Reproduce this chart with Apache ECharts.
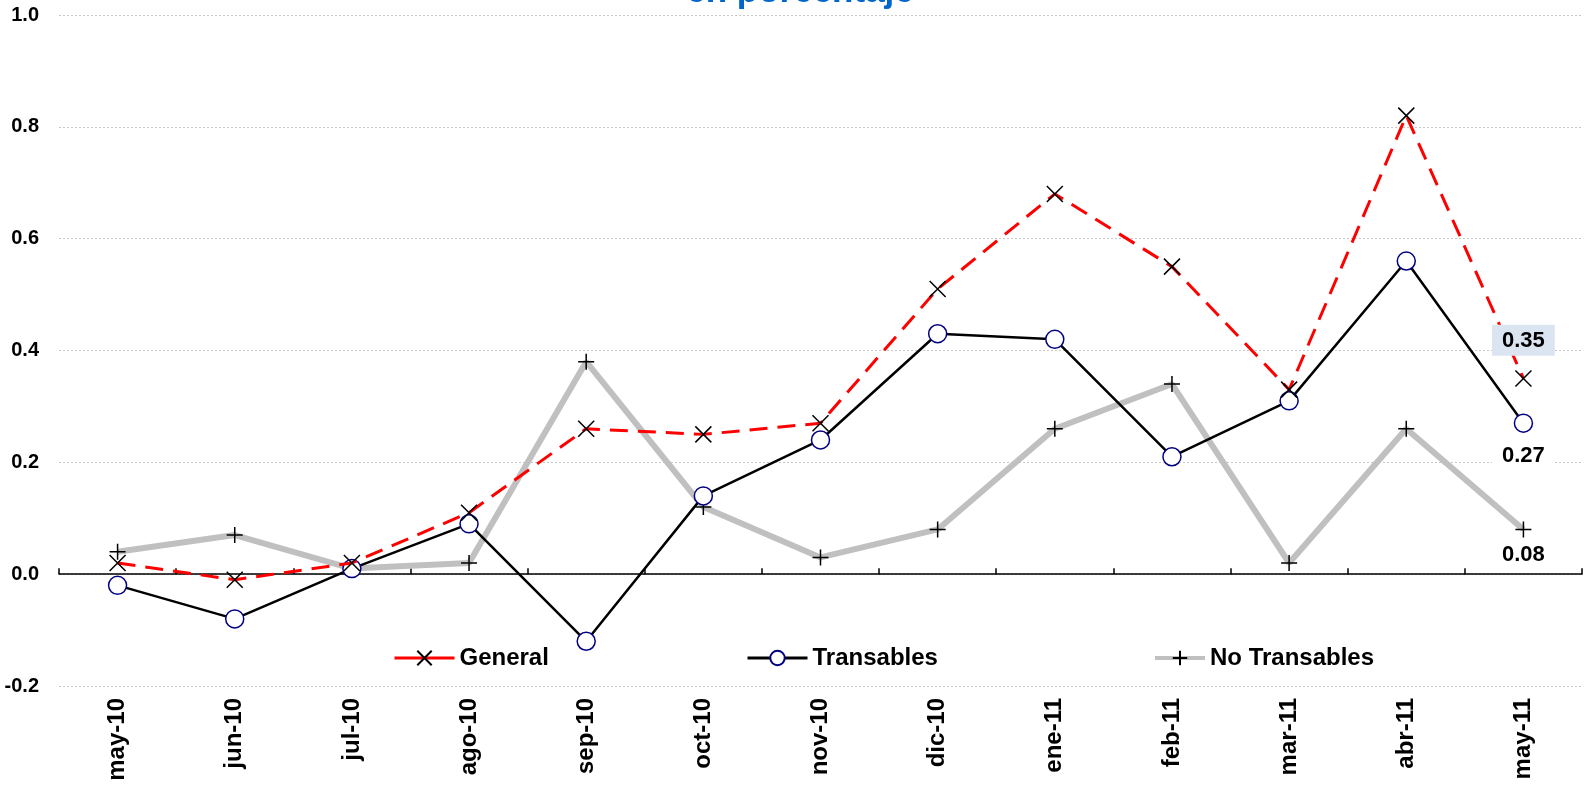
<!DOCTYPE html>
<html>
<head>
<meta charset="utf-8">
<script src="https://cdn.jsdelivr.net/npm/echarts@6/dist/echarts.min.js"></script>
<style>html,body{margin:0;padding:0;background:#fff}#c{width:1587px;height:791px}</style>
</head>
<body>
<div id="c"></div>
<script>
const categories = ['may-10','jun-10','jul-10','ago-10','sep-10','oct-10','nov-10','dic-10','ene-11','feb-11','mar-11','abr-11','may-11'];
const general = [0.02,-0.01,0.02,0.11,0.26,0.25,0.27,0.51,0.68,0.55,0.33,0.82,0.35];
const transables = [-0.02,-0.08,0.01,0.09,-0.12,0.14,0.24,0.43,0.42,0.21,0.31,0.56,0.27];
const noTransables = [0.04,0.07,0.01,0.02,0.38,0.12,0.03,0.08,0.26,0.34,0.02,0.26,0.08];
const yTicks = {min: -0.2, max: 1.0, interval: 0.2};
const titleText = 'en porcentaje';

const FONT = '"Liberation Sans", Arial, sans-serif';
const chart = echarts.init(document.getElementById('c'));
const crossPath = 'path://M0,0L10,10M10,0L0,10';
const plusPath = 'path://M5,0L5,10M0,5L10,5';

function lastLabel(arr, pos, dist, bg) {
  return arr.map((v, i) => i === arr.length - 1 ? {
    value: v,
    label: {show: true, position: pos, distance: dist, formatter: p => p.value.toFixed(2),
      fontFamily: FONT, fontWeight: 'bold', fontSize: 22, color: '#000',
      backgroundColor: bg, padding: [5, 10, 4, 10]}
  } : v);
}

const legendCommon = {
  top: 641, itemHeight: 18, itemGap: 8,
  textStyle: {fontFamily: FONT, fontWeight: 'bold', fontSize: 24, color: '#000'},
  selectedMode: false
};

chart.setOption({
  animation: false,
  backgroundColor: '#ffffff',
  graphic: [{
    type: 'text', x: 800, y: 10,
    style: {text: titleText, fill: '#0066CC', font: 'bold 35px ' + FONT, textAlign: 'center', textVerticalAlign: 'bottom'}
  }],
  legend: [
    Object.assign({left: 388, itemWidth: 60, data: ['General'], lineStyle: {type: 'solid', width: 3}}, legendCommon),
    Object.assign({left: 741, itemWidth: 60, data: ['Transables'], lineStyle: {width: 3}}, legendCommon),
    Object.assign({left: 1148, itemWidth: 50, data: ['No Transables'], lineStyle: {width: 4}}, legendCommon)
  ],
  grid: {left: 59, right: 5, top: 15, bottom: 105, containLabel: false},
  xAxis: [{
    type: 'category', data: categories, boundaryGap: true,
    axisLine: {show: true, onZero: true, lineStyle: {color: '#000', width: 1.5}},
    axisTick: {show: true, inside: true, length: 6, alignWithLabel: false, lineStyle: {color: '#000', width: 1.5}},
    axisLabel: {show: false}, splitLine: {show: false}
  }, {
    type: 'category', data: categories, boundaryGap: true, position: 'bottom',
    axisLine: {show: false, onZero: false}, axisTick: {show: false},
    axisLabel: {show: true, rotate: 90, margin: 12, fontFamily: FONT, fontWeight: 'bold', fontSize: 24, color: '#000'},
    splitLine: {show: false}
  }],
  yAxis: {
    type: 'value', min: yTicks.min, max: yTicks.max, interval: yTicks.interval,
    axisLine: {show: false}, axisTick: {show: false},
    axisLabel: {margin: 20, fontFamily: FONT, fontWeight: 'bold', fontSize: 20, color: '#000', formatter: v => v.toFixed(1)},
    splitLine: {show: true, lineStyle: {color: '#c8c8c8', type: [2, 2], width: 1}}
  },
  series: [{
    name: 'No Transables', type: 'line', data: lastLabel(noTransables, 'bottom', 1, '#ffffff'),
    lineStyle: {color: '#c0c0c0', width: 6},
    symbol: plusPath, symbolSize: 16,
    itemStyle: {color: 'rgba(0,0,0,0)', borderColor: '#000', borderWidth: 1.5},
    z: 2
  }, {
    name: 'Transables', type: 'line', data: lastLabel(transables, 'bottom', 7, '#ffffff'),
    lineStyle: {color: '#000', width: 2.5},
    symbol: 'circle', symbolSize: 18,
    itemStyle: {color: '#ffffff', borderColor: '#000080', borderWidth: 1.5},
    z: 3
  }, {
    name: 'General', type: 'line', data: lastLabel(general, 'top', 14, '#dbe5f1'),
    lineStyle: {color: '#ff0000', width: 3, type: [18, 10]},
    symbol: crossPath, symbolSize: 16,
    itemStyle: {color: 'rgba(0,0,0,0)', borderColor: '#000', borderWidth: 1.5},
    z: 4
  }]
});
</script>
</body>
</html>
